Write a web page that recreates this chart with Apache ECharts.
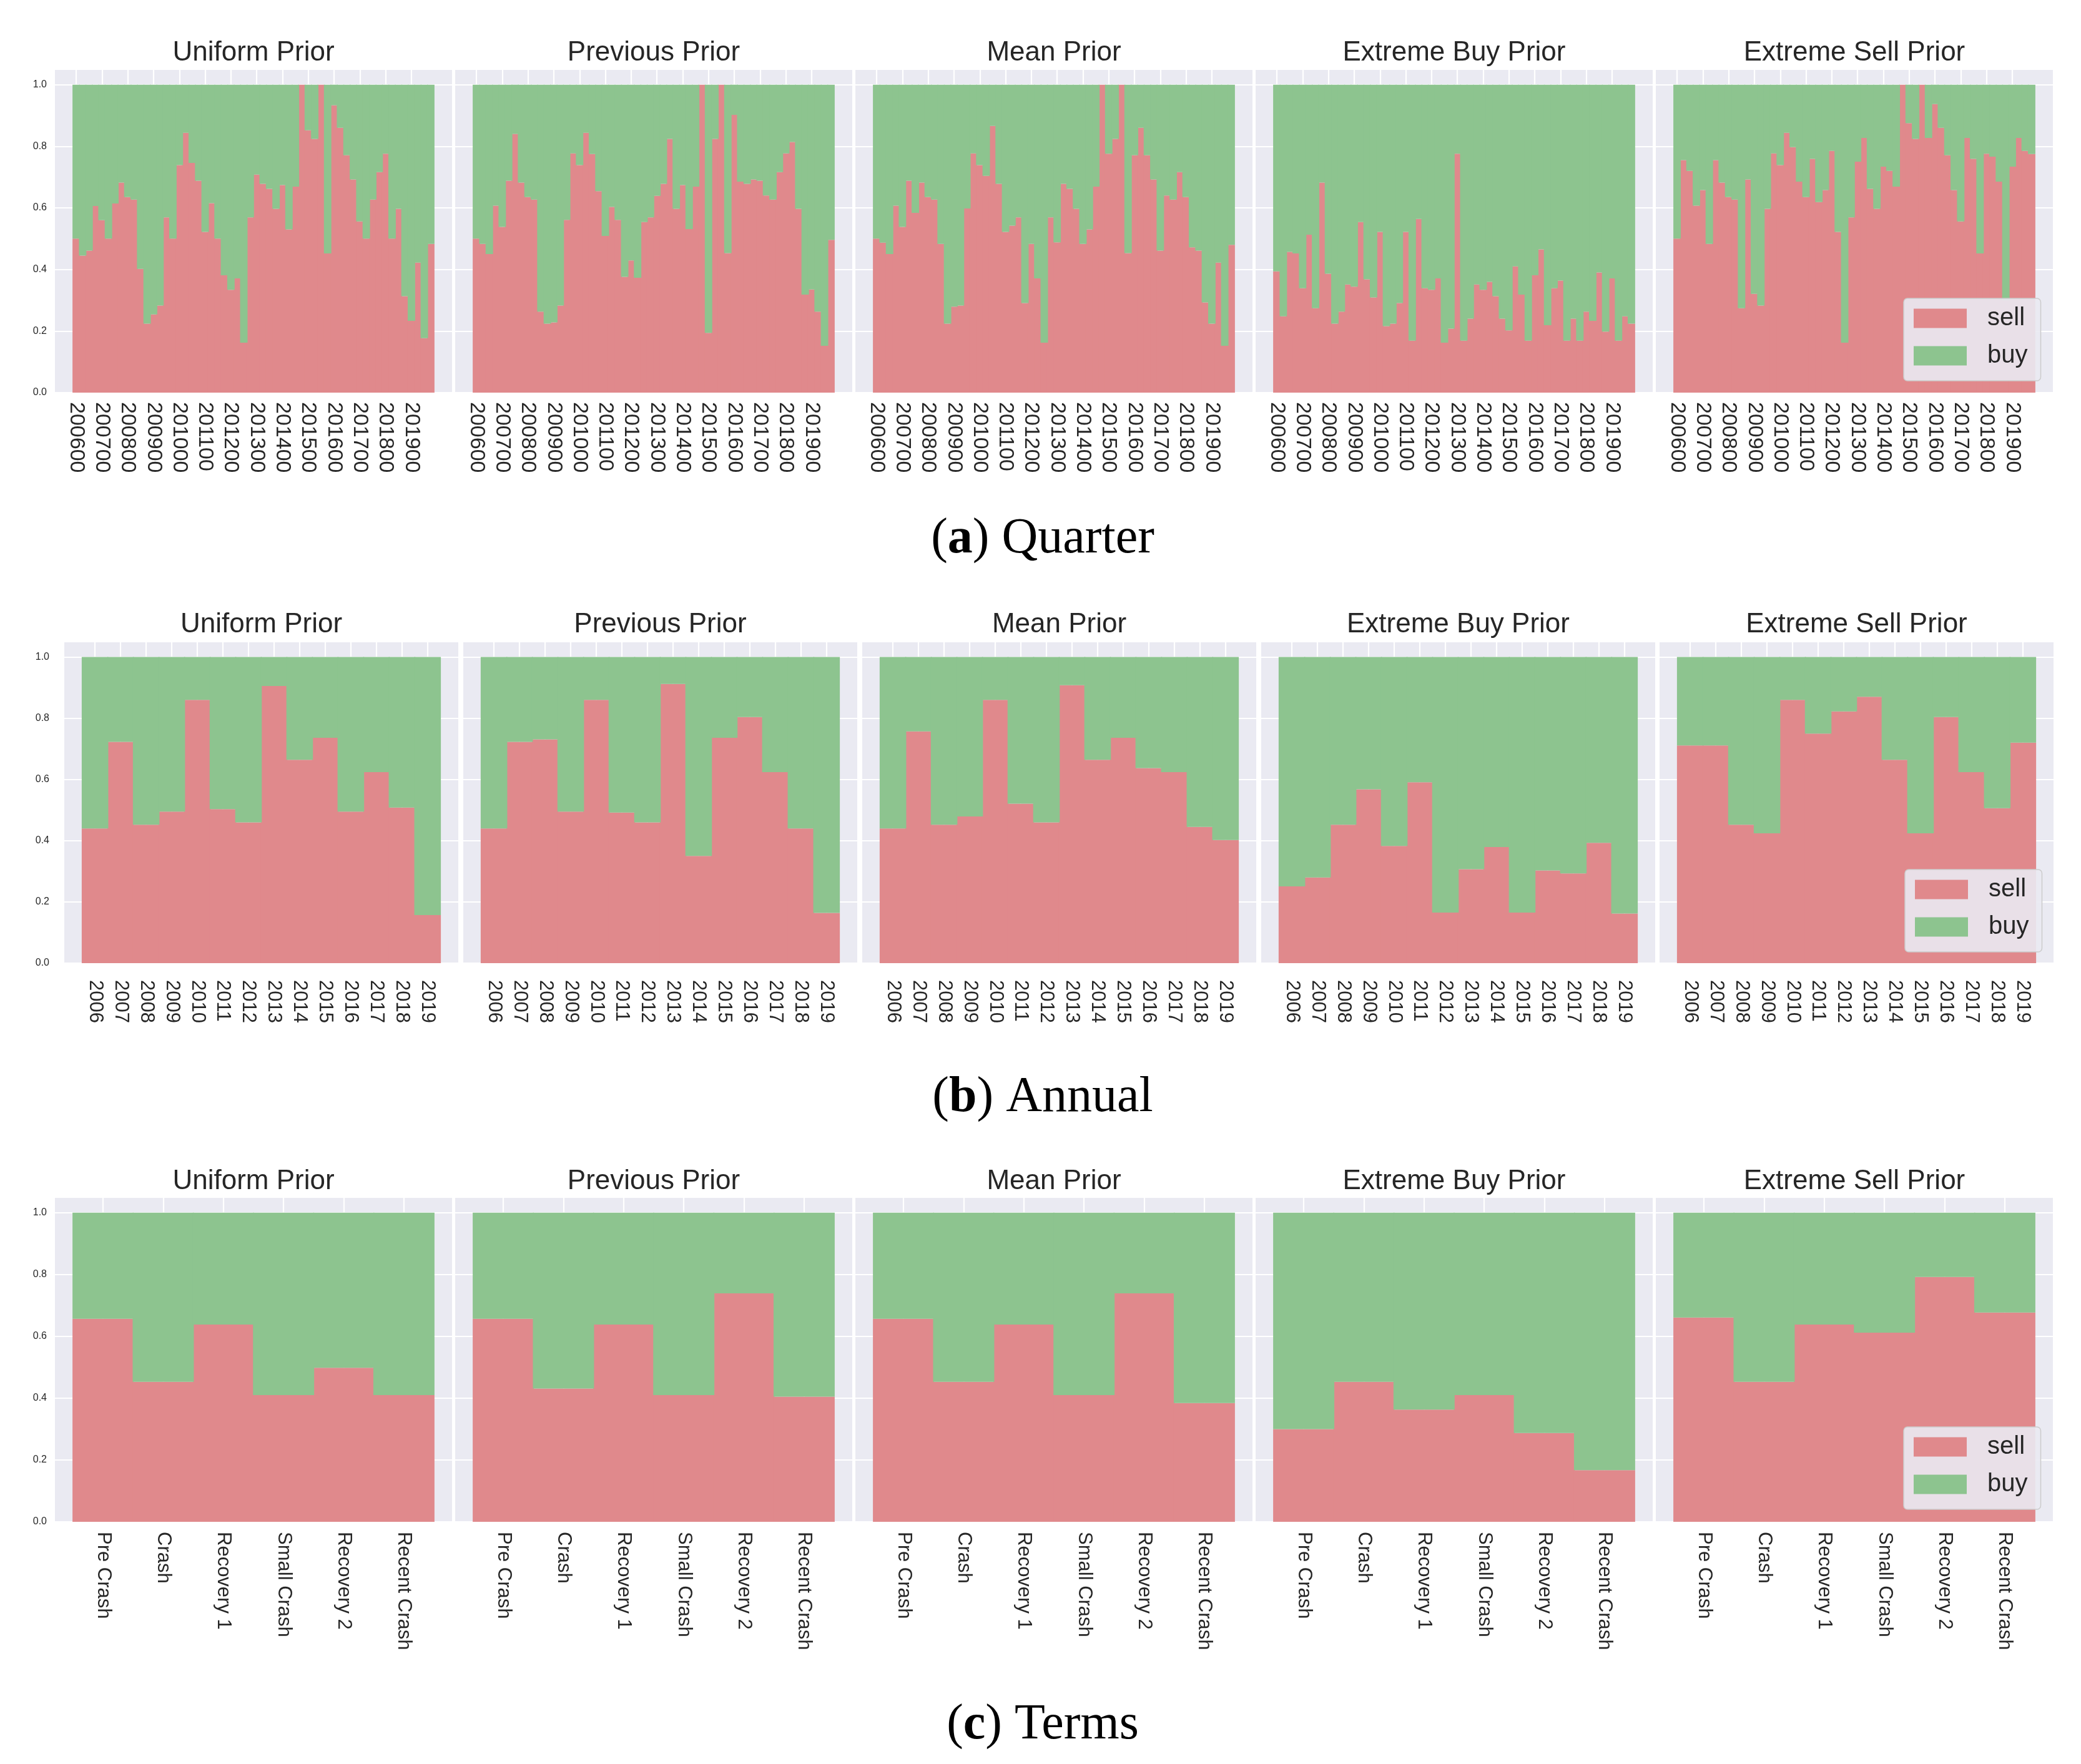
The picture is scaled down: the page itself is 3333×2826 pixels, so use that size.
<!DOCTYPE html>
<html>
<head>
<meta charset="utf-8">
<script src="https://cdn.jsdelivr.net/npm/echarts@6/dist/echarts.min.js"></script>
<style>
html,body{margin:0;padding:0;background:#ffffff;}
#chart{width:3333px;height:2826px;}
</style>
</head>
<body>
<div id="chart"></div>
<script>
// ---------------- DATA ----------------
const priorNames = ['Uniform Prior', 'Previous Prior', 'Mean Prior', 'Extreme Buy Prior', 'Extreme Sell Prior'];
const seriesNames = ['sell', 'buy'];

const quarterTickLabels = ['200600','200700','200800','200900','201000','201100','201200',
  '201300','201400','201500','201600','201700','201800','201900'];
const yearLabels = ['2006','2007','2008','2009','2010','2011','2012','2013','2014','2015','2016','2017','2018','2019'];
const termLabels = ['Pre Crash','Crash','Recovery 1','Small Crash','Recovery 2','Recent Crash'];

// share of "sell" per quarter (56 quarters, 2006..2019)
const quarterUniformSell = [0.500,0.445,0.461,0.606,0.560,0.500,0.614,0.682,0.635,0.627,
  0.402,0.224,0.254,0.283,0.569,0.500,0.739,0.844,0.746,0.688,
  0.522,0.615,0.500,0.381,0.334,0.371,0.162,0.569,0.708,0.678,
  0.662,0.597,0.674,0.530,0.669,1.000,0.852,0.824,1.000,0.452,
  0.933,0.860,0.771,0.692,0.556,0.500,0.627,0.716,0.776,0.500,
  0.597,0.313,0.233,0.422,0.177,0.483];
const quarterPreviousSell = [0.500,0.483,0.450,0.607,0.538,0.688,0.840,0.682,0.635,0.627,
  0.263,0.224,0.228,0.283,0.561,0.777,0.739,0.844,0.775,0.654,
  0.509,0.603,0.561,0.376,0.429,0.373,0.554,0.569,0.639,0.678,
  0.824,0.597,0.674,0.531,0.669,1.000,0.194,0.824,1.000,0.453,
  0.902,0.685,0.678,0.692,0.688,0.640,0.627,0.716,0.777,0.814,
  0.597,0.318,0.335,0.263,0.152,0.496];
const quarterMeanSell = [0.500,0.487,0.450,0.607,0.538,0.688,0.584,0.682,0.635,0.627,
  0.483,0.224,0.279,0.283,0.598,0.777,0.739,0.704,0.866,0.678,
  0.522,0.542,0.569,0.291,0.483,0.371,0.162,0.569,0.488,0.678,
  0.662,0.597,0.483,0.530,0.669,1.000,0.776,0.824,1.000,0.453,
  0.771,0.860,0.771,0.692,0.461,0.640,0.627,0.716,0.635,0.472,
  0.461,0.293,0.224,0.422,0.152,0.480];
const quarterExtremeBuySell = [0.394,0.248,0.457,0.452,0.339,0.513,0.274,0.682,0.386,0.224,
  0.263,0.351,0.344,0.554,0.368,0.309,0.522,0.216,0.224,0.291,
  0.522,0.169,0.564,0.339,0.334,0.371,0.162,0.208,0.776,0.169,
  0.240,0.351,0.334,0.360,0.313,0.240,0.202,0.410,0.318,0.169,
  0.381,0.465,0.219,0.339,0.364,0.169,0.240,0.169,0.263,0.233,
  0.390,0.198,0.371,0.169,0.248,0.224];
const quarterExtremeSellSell = [0.500,0.755,0.720,0.607,0.658,0.483,0.755,0.682,0.635,0.627,
  0.274,0.692,0.321,0.283,0.597,0.777,0.739,0.844,0.797,0.685,
  0.635,0.759,0.619,0.658,0.785,0.522,0.162,0.569,0.750,0.827,
  0.662,0.597,0.734,0.720,0.669,1.000,0.875,0.824,1.000,0.827,
  0.937,0.860,0.771,0.658,0.556,0.827,0.759,0.452,0.776,0.766,
  0.685,0.300,0.734,0.827,0.785,0.775];

// share of "sell" per year
const annualUniformSell   = [0.440,0.723,0.452,0.495,0.860,0.503,0.460,0.905,0.664,0.736,0.495,0.624,0.508,0.157];
const annualPreviousSell  = [0.440,0.723,0.731,0.495,0.860,0.492,0.460,0.912,0.350,0.736,0.804,0.624,0.440,0.164];
const annualMeanSell      = [0.440,0.757,0.452,0.479,0.860,0.521,0.460,0.908,0.664,0.736,0.637,0.624,0.445,0.402];
const annualExtremeBuySell  = [0.251,0.280,0.452,0.568,0.383,0.591,0.165,0.307,0.379,0.165,0.303,0.293,0.393,0.162];
const annualExtremeSellSell = [0.711,0.711,0.452,0.424,0.860,0.750,0.822,0.870,0.664,0.424,0.804,0.624,0.506,0.720];

// share of "sell" per market term
const termsUniformSell   = [0.657,0.453,0.638,0.410,0.498,0.410];
const termsPreviousSell  = [0.657,0.431,0.638,0.410,0.739,0.405];
const termsMeanSell      = [0.657,0.453,0.638,0.410,0.739,0.384];
const termsExtremeBuySell  = [0.300,0.453,0.363,0.410,0.287,0.167];
const termsExtremeSellSell = [0.661,0.453,0.638,0.612,0.792,0.677];

// ---------------- STYLE / LAYOUT ----------------
const SELL_COLOR = '#E0898C';
const BUY_COLOR = '#8DC48F';
const PANEL_BG = '#EAEAF2';
const TXT = '#262626';
const SANS = '"Liberation Sans", Arial, Helvetica, sans-serif';
const SERIF = '"Liberation Serif", "Times New Roman", serif';

const rows = [
  { sells: [quarterUniformSell, quarterPreviousSell, quarterMeanSell, quarterExtremeBuySell, quarterExtremeSellSell],
    labels: quarterTickLabels, step: 4, count: 56,
    top: 111, height: 518, lefts: [88, 729, 1370, 2011, 2652], width: 636,
    titleY: 85, xFont: 34, xMargin: 15, yMargin: 13, legendPos: [3049, 478],
    caption: '({b|a}) Quarter', captionY: 864 },
  { sells: [annualUniformSell, annualPreviousSell, annualMeanSell, annualExtremeBuySell, annualExtremeSellSell],
    labels: yearLabels, step: 1, count: 14,
    top: 1028, height: 515, lefts: [103, 742, 1381, 2020, 2658], width: 631,
    titleY: 1001, xFont: 31, xMargin: 27, yMargin: 24, legendPos: [3051, 1393],
    caption: '({b|b}) Annual', captionY: 1759 },
  { sells: [termsUniformSell, termsPreviousSell, termsMeanSell, termsExtremeBuySell, termsExtremeSellSell],
    labels: termLabels, step: 1, count: 6,
    top: 1918, height: 520, lefts: [88, 729, 1370, 2011, 2652], width: 636,
    titleY: 1893, xFont: 31, xMargin: 16, yMargin: 13, legendPos: [3049, 2286],
    caption: '({b|c}) Terms', captionY: 2764 }
];

const grids = [], xAxes = [], yAxes = [], series = [], graphics = [], legends = [];

rows.forEach((row, r) => {
  const ticks = row.labels.map((_, k) => k * row.step);
  const pad = 0.05 * row.count;
  // slightly wider than one band so neighbouring bars overlap and leave no seams
  const barPx = row.width / (row.count * 1.1) + 1.6;
  row.sells.forEach((sellArr, p) => {
    const g = grids.length;
    const left = row.lefts[p];
    grids.push({ left: left, top: row.top, width: row.width, height: row.height,
      show: true, backgroundColor: PANEL_BG, borderWidth: 0 });
    xAxes.push({
      gridIndex: g, type: 'value',
      min: -0.5 - pad, max: row.count - 0.5 + pad,
      axisLine: { show: false },
      axisTick: { show: false, customValues: ticks },
      axisLabel: {
        customValues: ticks, rotate: -90, fontSize: row.xFont, color: TXT, fontFamily: SANS,
        margin: row.xMargin,
        formatter: (v) => { const k = Math.round(v / row.step); return row.labels[k] !== undefined ? row.labels[k] : ''; }
      },
      splitLine: { show: true, lineStyle: { color: '#ffffff', width: 2.2 } }
    });
    yAxes.push({
      gridIndex: g, type: 'value', min: 0, max: 1.05, interval: 0.2,
      axisLine: { show: false }, axisTick: { show: false },
      axisLabel: { show: p === 0, fontSize: 16, color: TXT, fontFamily: SANS, margin: row.yMargin,
        showMaxLabel: false,
        formatter: (v) => (v > 1.0001 ? '' : v.toFixed(1)) },
      splitLine: { show: true, lineStyle: { color: '#ffffff', width: 2.2 } }
    });
    // data items are [share, index]; column 0 (the share) is the stacked dimension
    series.push({
      name: seriesNames[0], type: 'bar', xAxisIndex: g, yAxisIndex: g, stack: 'st' + g,
      encode: { x: 1, y: 0 },
      barWidth: barPx, silent: true,
      itemStyle: { color: SELL_COLOR },
      data: sellArr.map((v, i) => [v, i])
    });
    series.push({
      name: seriesNames[1], type: 'bar', xAxisIndex: g, yAxisIndex: g, stack: 'st' + g,
      encode: { x: 1, y: 0 },
      barWidth: barPx, silent: true,
      itemStyle: { color: BUY_COLOR },
      data: sellArr.map((v, i) => [+(1 - v).toFixed(4), i])
    });
    graphics.push({
      type: 'text', x: left + row.width / 2, y: row.titleY, silent: true,
      style: { text: priorNames[p], fontSize: 44, fontFamily: SANS, fill: TXT,
        align: 'center', verticalAlign: 'middle', textAlign: 'center', textVerticalAlign: 'middle' }
    });
  });
  legends.push({
    orient: 'vertical', left: row.legendPos[0], top: row.legendPos[1],
    data: seriesNames.slice(), icon: 'rect', itemWidth: 85, itemHeight: 31, itemGap: 20,
    padding: [12, 21, 20, 16], backgroundColor: 'rgba(234,234,242,0.9)',
    borderColor: '#cccccc', borderWidth: 1.5, borderRadius: 6, selectedMode: false,
    textStyle: { fontSize: 40, color: TXT, fontFamily: SANS, padding: [0, 0, 0, 28] }
  });
  graphics.push({
    type: 'text', x: 1670, y: row.captionY, silent: true,
    style: { text: row.caption, fontSize: 80, fontFamily: SERIF, fill: '#000000',
      align: 'center', verticalAlign: 'middle', textAlign: 'center', textVerticalAlign: 'middle',
      rich: { b: { fontSize: 80, fontFamily: SERIF, fontWeight: 'bold', fill: '#000000' } } }
  });
});

const chart = echarts.init(document.getElementById('chart'), null, { renderer: 'canvas' });
chart.setOption({
  backgroundColor: '#ffffff',
  animation: false,
  grid: grids, xAxis: xAxes, yAxis: yAxes, series: series,
  legend: legends, graphic: graphics
});
</script>
</body>
</html>
